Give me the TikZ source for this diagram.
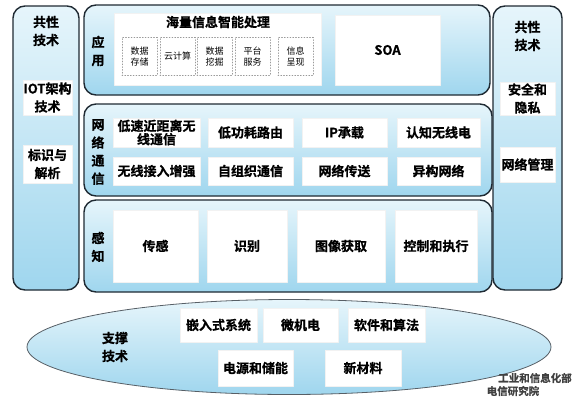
\documentclass[tikz,border=0pt]{standalone}
\usepackage{fontspec}
\setmainfont{Noto Sans CJK SC}[BoldFont={Noto Sans CJK SC Bold}, BoldFeatures={FakeBold=0.8}]
\usetikzlibrary{shapes.geometric}
\definecolor{pnlline}{HTML}{1F2A33}
\definecolor{pnlblue}{HTML}{9FD6EE}
\definecolor{pnllight}{HTML}{E6F5FB}
\begin{document}
\begin{tikzpicture}[x=1pt, y=-1pt, line join=round, line cap=round,
	font=\bfseries\fontsize{13}{18}\selectfont,
	panel/.style={draw=pnlline, line width=1.4pt, rounded corners=12pt, top color=pnllight, bottom color=pnlblue, inner sep=0pt},
	wbox/.style={fill=white, draw=white!90!gray, inner sep=0pt, align=center},
	dbox/.style={wbox, draw=gray!80, dotted, line width=0.8pt, font=\fontsize{9}{11.5}\selectfont},
	lbl/.style={align=center, inner sep=0pt}]
	\useasboundingbox (0,0) rectangle (576,400);
	% cot trai va cot phai
	\node[panel, minimum width=66pt, minimum height=284pt] (leftcol) at (46,148) {};
	\node[panel, minimum width=69pt, minimum height=284pt] (rightcol) at (527.5,148) {};
	\node[lbl] (lhead) at (46,31) {共性\\技术};
	\node[wbox, minimum width=49pt, minimum height=35pt] (iot) at (47.5,97.5) {IOT架构\\技术};
	\node[wbox, minimum width=49pt, minimum height=38pt] (ident) at (47.5,164) {标识与\\解析};
	\node[lbl] (rhead) at (527.5,36) {共性\\技术};
	\node[wbox, minimum width=55pt, minimum height=33pt] (secur) at (527.5,98.5) {安全和\\隐私};
	\node[wbox, minimum width=55pt, minimum height=35pt] (netmgr) at (527.5,164.5) {网络管理};
	% ung dung
	\node[panel, minimum width=406pt, minimum height=90pt] (app) at (287,50) {};
	\node[lbl] (applbl) at (98,51) {应\\用};
	\node[wbox, minimum width=207pt, minimum height=72pt] (bigdata) at (217.5,49) {};
	\node[lbl] (bdhead) at (218,22) {海量信息智能处理};
	\node[dbox, minimum width=35pt, minimum height=38pt] (store) at (139.5,56.5) {数据\\存储};
	\node[dbox, minimum width=35pt, minimum height=38pt] (cloud) at (177.5,56.5) {云计算};
	\node[dbox, minimum width=35pt, minimum height=38pt] (mining) at (214.5,56.5) {数据\\挖掘};
	\node[dbox, minimum width=35pt, minimum height=38pt] (platf) at (252.5,56.5) {平台\\服务};
	\node[dbox, minimum width=35pt, minimum height=38pt] (show) at (295.5,56.5) {信息\\呈现};
	\node[wbox, minimum width=105pt, minimum height=70pt] (soa) at (387.5,50) {SOA};
	% mang luoi
	\node[panel, minimum width=408pt, minimum height=92pt] (net) at (288,150) {};
	\node[lbl] (netlbl) at (98,152) {网\\络\\通\\信};
	\node[wbox, minimum width=87pt, minimum height=29pt, font=\bfseries\fontsize{13}{11}\selectfont] (lowspeed) at (156.5,132.5) {低速近距离无\\线通信};
	\node[wbox, minimum width=85pt, minimum height=29pt] (lowpow) at (250.5,132.5) {低功耗路由};
	\node[wbox, minimum width=85pt, minimum height=29pt] (ipbear) at (344.5,132.5) {IP承载};
	\node[wbox, minimum width=83pt, minimum height=29pt] (cogrd) at (438.5,132.5) {认知无线电};
	\node[wbox, minimum width=87pt, minimum height=28pt] (wlacc) at (156.5,171) {无线接入增强};
	\node[wbox, minimum width=85pt, minimum height=28pt] (selforg) at (250.5,171) {自组织通信};
	\node[wbox, minimum width=85pt, minimum height=28pt] (nettx) at (344.5,171) {网络传送};
	\node[wbox, minimum width=83pt, minimum height=28pt] (hetnet) at (438.5,171) {异构网络};
	% cam nhan
	\node[panel, minimum width=408pt, minimum height=92pt] (perc) at (288,246) {};
	\node[lbl] (perclbl) at (98,247) {感\\知};
	\node[wbox, minimum width=85pt, minimum height=72pt] (sense) at (155.5,246) {传感};
	\node[wbox, minimum width=80pt, minimum height=72pt] (recog) at (247,246) {识别};
	\node[wbox, minimum width=88pt, minimum height=72pt] (image) at (341,246) {图像获取};
	\node[wbox, minimum width=82pt, minimum height=72pt] (ctrl) at (436,246) {控制和执行};
	% ho tro
	\node[ellipse, draw=pnlline!75, line width=0.8pt, top color=pnllight, bottom color=pnlblue, minimum width=524pt, minimum height=95pt, inner sep=0pt] (base) at (289,347) {};
	\node[lbl] (baselbl) at (115,347) {支撑\\技术};
	\node[wbox, minimum width=77pt, minimum height=34pt] (embed) at (218.5,325) {嵌入式系统};
	\node[wbox, minimum width=75pt, minimum height=34pt] (mems) at (300.5,325) {微机电};
	\node[wbox, minimum width=77pt, minimum height=34pt] (soft) at (386.5,325) {软件和算法};
	\node[wbox, minimum width=75pt, minimum height=36pt] (power) at (255.5,368) {电源和储能};
	\node[wbox, minimum width=76pt, minimum height=36pt] (mater) at (363,368) {新材料};
	\node[lbl, font=\bfseries\fontsize{10.5}{13}\selectfont, text=black!75] (wm1) at (535,378) {工业和信息化部};
	\node[lbl, font=\bfseries\fontsize{10.5}{13}\selectfont, text=black!75] (wm2) at (513,391) {电信研究院};
\end{tikzpicture}
\end{document}
